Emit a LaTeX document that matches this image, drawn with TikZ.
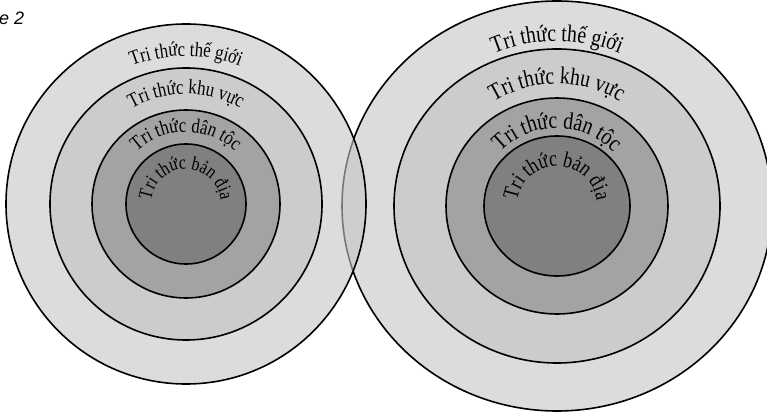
\documentclass[tikz,border=0pt]{standalone}
\usepackage{fontspec}
\setmainfont{Liberation Serif}
\newfontfamily\tallserif[FakeStretch=0.82]{Liberation Serif}
\newfontfamily\titlefont{Liberation Sans}
\usetikzlibrary{decorations.text,calc}
\definecolor{ringouter}{gray}{0.863}
\definecolor{ringsecond}{gray}{0.80}
\definecolor{ringthird}{gray}{0.64}
\definecolor{ringinner}{gray}{0.50}
\definecolor{ringveil}{gray}{0.775}
\newcommand\fontLeft{\tallserif\fontsize{20.5pt}{20pt}\selectfont}
\newcommand\fontLeftIn{\tallserif\fontsize{19.5pt}{19pt}\selectfont}
\newcommand\fontRight{\tallserif\fontsize{24pt}{24pt}\selectfont}
\newcommand\fontRightIn{\tallserif\fontsize{22pt}{22pt}\selectfont}
\begin{document}
\begin{tikzpicture}[x=1pt,y=1pt,
  ring/.style={draw=black, line width=1.6pt},
  arctext/.style={decorate, decoration={text along path, text align=center, text={#1}}}]
\useasboundingbox (0,0) rectangle (767,415);
\coordinate (cl) at (186,211);
\coordinate (cr) at (557,209);
% right system
\draw[ring, fill=ringouter]  (cr) ellipse[x radius=215, y radius=205];
\draw[ring, fill=ringsecond] (cr) ellipse[x radius=163, y radius=157];
\draw[ring, fill=ringthird]  (cr) ellipse[x radius=111, y radius=108];
\draw[ring, fill=ringinner]  (cr) ellipse[x radius=73, y radius=70];
% left system
\draw[ring, fill=ringveil, fill opacity=0.607] (cl) circle[radius=180];
\draw[ring, fill=ringsecond] (cl) circle[radius=136];
\draw[ring, fill=ringthird]  (cl) circle[radius=94];
\draw[ring, fill=ringinner]  (cl) circle[radius=60];
% left labels
\path[arctext={|\fontLeft|Tri thức thế giới}] ($(cl)+(180:148)$) arc[start angle=180, end angle=0, radius=148];
\path[arctext={|\fontLeft|Tri thức khu vực}] ($(cl)+(180:110)$) arc[start angle=180, end angle=0, radius=110];
\path[arctext={|\fontLeft|Tri thức dân tộc}] ($(cl)+(180:72)$) arc[start angle=180, end angle=0, radius=72];
\path[arctext={|\fontLeftIn|Tri thức bản địa}] ($(cl)+(200:35)$) arc[start angle=200, end angle=-20, radius=35];
% right labels
\path[arctext={|\fontRight|Tri thức thế giới}] ($(cr)+(180:165)$) arc[start angle=180, end angle=0, radius=165];
\path[arctext={|\fontRight|Tri thức khu vực}] ($(cr)+(180:122)$) arc[start angle=180, end angle=0, radius=122];
\path[arctext={|\fontRight|Tri thức dân tộc}] ($(cr)+(180:78)$) arc[start angle=180, end angle=0, radius=78];
\path[arctext={|\fontRightIn|Tri thức bản địa}] ($(cr)+(200:40)$) arc[start angle=200, end angle=-20, radius=40];
% title
\node[anchor=base west, inner sep=0pt, font=\titlefont\itshape\fontsize{18pt}{18pt}\selectfont] (title) at (-1,390) {e 2};
\end{tikzpicture}
\end{document}
